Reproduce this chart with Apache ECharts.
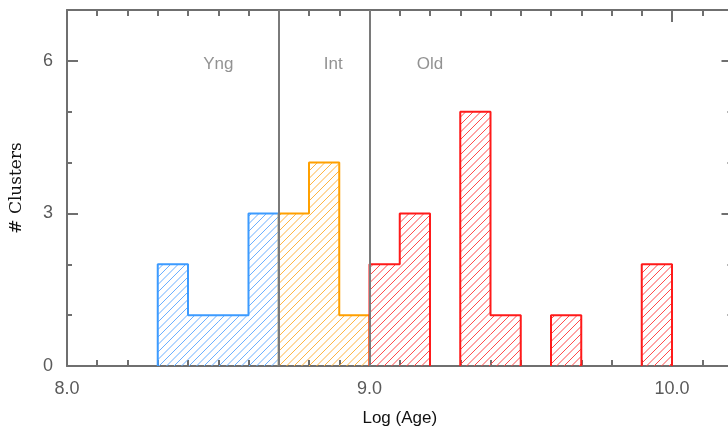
<!DOCTYPE html>
<html>
<head>
<meta charset="utf-8">
<script src="https://cdn.jsdelivr.net/npm/echarts@6/dist/echarts.min.js"></script>
<style>
  html, body { margin: 0; padding: 0; background: #fff; }
  #chart { width: 728px; height: 428px; }
</style>
</head>
<body>
<div id="chart"></div>
<script>
// Histogram of cluster ages, bins of 0.1 dex in Log(Age)
const binWidth = 0.1;
const yngStart = 8.3;
const yngCounts = [2, 1, 1, 3];
const intStart = 8.7;
const intCounts = [3, 4, 1];
const oldStart = 9.0;
const oldCounts = [2, 3, 0, 5, 1, 0, 1, 0, 0, 2];

// Boundaries between the age groups and their labels
const dividers = [8.7, 9.0];
const groupNames = ['Yng', 'Int', 'Old'];
const groupLabelX = [8.5, 8.88, 9.2];
const groupLabelY = 6;

const xTickLabels = ['8.0', '9.0', '10.0'];

const axisGrey = '#6f6f6f';
const font = '"Liberation Sans", Arial, Helvetica, sans-serif';
const hatchStep = 7.5;

function binData(start, counts) {
  const out = [];
  counts.forEach((c, i) => {
    if (c > 0) {
      const x0 = +(start + i * binWidth).toFixed(2);
      out.push([x0, +(x0 + binWidth).toFixed(2), c]);
    }
  });
  return out;
}

// Step outline of the histogram, broken where a bin is empty
function outline(start, counts) {
  const pts = [];
  let open = false;
  counts.forEach((c, i) => {
    const x0 = +(start + i * binWidth).toFixed(2);
    const x1 = +(x0 + binWidth).toFixed(2);
    if (c > 0) {
      if (!open) { pts.push([x0, 0]); open = true; }
      pts.push([x0, c], [x1, c]);
    } else if (open) {
      pts.push([x0, 0], ['-', '-']);
      open = false;
    }
  });
  if (open) {
    pts.push([+(start + counts.length * binWidth).toFixed(2), 0]);
  }
  return pts;
}

// "/" hatch lines clipped to a pixel rectangle, on a page-wide lattice
function hatchLines(x0, x1, yTop, yBot, color) {
  const children = [];
  const kStart = Math.ceil((x0 + yTop) / hatchStep) * hatchStep;
  for (let k = kStart; k <= x1 + yBot; k += hatchStep) {
    const xa = Math.max(x0, k - yBot);
    const xb = Math.min(x1, k - yTop);
    if (xb - xa > 0.3) {
      children.push({
        type: 'line',
        shape: { x1: xa, y1: k - xa, x2: xb, y2: k - xb },
        style: { stroke: color, lineWidth: 1 }
      });
    }
  }
  return children;
}

function hatchSeries(start, counts, lineColor, hatchColor) {
  return [{
    type: 'custom',
    silent: true,
    data: binData(start, counts),
    encode: { x: [0, 1], y: 2 },
    renderItem: function (params, api) {
      const p0 = api.coord([api.value(0), api.value(2)]);
      const p1 = api.coord([api.value(1), 0]);
      return {
        type: 'group',
        children: hatchLines(p0[0], p1[0], p0[1], p1[1], hatchColor)
      };
    },
    z: 2
  }, {
    type: 'line',
    silent: true,
    data: outline(start, counts),
    symbol: 'none',
    connectNulls: false,
    lineStyle: { color: lineColor, width: 2 },
    z: 3
  }];
}

// Ticks point into the plot box on every side
const tick = len => ({ show: true, inside: true, length: len, lineStyle: { color: axisGrey, width: 2 } });
const frameLine = { show: true, onZero: false, lineStyle: { color: axisGrey, width: 2 } };
const noLine = { show: false, onZero: false };

const chart = echarts.init(document.getElementById('chart'), null, { renderer: 'canvas' });

const xCommon = { type: 'value', min: 8, max: 10.2, splitLine: { show: false } };
const yCommon = { type: 'value', min: 0, max: 7, splitLine: { show: false } };

chart.setOption({
  animation: false,
  backgroundColor: '#ffffff',
  grid: { left: 67, top: 10, width: 665.5, height: 356, containLabel: false, outerBoundsMode: 'none' },
  xAxis: [
    Object.assign({}, xCommon, {
      position: 'bottom', interval: 1,
      axisLine: frameLine,
      axisTick: tick(12),
      axisLabel: {
        show: true, margin: 14, fontSize: 18, color: '#5a5a5a', fontFamily: font,
        showMaxLabel: false,
        formatter: v => xTickLabels[Math.round(v - 8)] || ''
      },
      name: 'Log (Age)', nameLocation: 'middle', nameGap: 44,
      nameTextStyle: { fontSize: 17, color: '#111', fontFamily: font }
    }),
    Object.assign({}, xCommon, {
      position: 'bottom', interval: 0.1,
      axisLine: noLine, axisTick: tick(6), axisLabel: { show: false }
    }),
    Object.assign({}, xCommon, {
      position: 'top', interval: 1,
      axisLine: frameLine, axisTick: tick(12), axisLabel: { show: false }
    }),
    Object.assign({}, xCommon, {
      position: 'top', interval: 0.1,
      axisLine: noLine, axisTick: tick(6), axisLabel: { show: false }
    })
  ],
  yAxis: [
    Object.assign({}, yCommon, {
      position: 'left', interval: 3,
      axisLine: frameLine,
      axisTick: tick(11),
      axisLabel: { show: true, margin: 14, fontSize: 18, color: '#5a5a5a', fontFamily: font, showMaxLabel: false },
      name: '# Clusters', nameLocation: 'middle', nameGap: 42, nameRotate: 90,
      nameTextStyle: { fontSize: 17, color: '#111', fontFamily: '"DejaVu Serif", serif' }
    }),
    Object.assign({}, yCommon, {
      position: 'left', interval: 1,
      axisLine: noLine, axisTick: tick(5), axisLabel: { show: false }
    }),
    Object.assign({}, yCommon, {
      position: 'right', interval: 3,
      axisLine: frameLine, axisTick: tick(11), axisLabel: { show: false }
    }),
    Object.assign({}, yCommon, {
      position: 'right', interval: 1,
      axisLine: noLine, axisTick: tick(5), axisLabel: { show: false }
    })
  ],
  series: [
    ...hatchSeries(yngStart, yngCounts, '#3d9bff', '#6aafff'),
    ...hatchSeries(intStart, intCounts, '#ffa000', '#ffb340'),
    ...hatchSeries(oldStart, oldCounts, '#ff1a1a', '#ff4a4a'),
    {
      type: 'scatter',
      silent: true,
      symbolSize: 0,
      data: groupNames.map((n, i) => [groupLabelX[i], groupLabelY, n]),
      label: {
        show: true, position: 'inside', offset: [0, 3], formatter: p => p.data[2],
        fontSize: 17, color: '#777', fontFamily: font
      },
      markLine: {
        silent: true, symbol: 'none',
        label: { show: false },
        lineStyle: { color: '#7a7a7a', width: 2, type: 'solid' },
        data: dividers.map(x => ({ xAxis: x }))
      },
      z: 4
    }
  ]
});
</script>
</body>
</html>
